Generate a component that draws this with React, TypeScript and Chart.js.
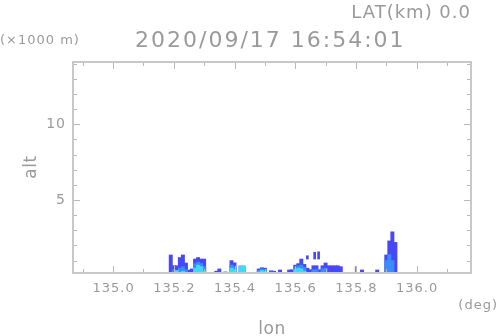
import React, { useEffect, useRef } from "react";
import { Chart, registerables } from "chart.js";

Chart.register(...registerables);

// Columns of the cross-section (longitude, deg) and layer tops (km)
const lon = [
  135.19, 135.2, 135.21, 135.22, 135.23, 135.24, 135.25, 135.26, 135.27, 135.28, 135.29, 135.3,
  135.34, 135.35, 135.37, 135.39, 135.4, 135.42, 135.43, 135.48, 135.49, 135.5, 135.52, 135.53,
  135.55, 135.58, 135.59, 135.6, 135.61, 135.62, 135.63, 135.64, 135.65, 135.66, 135.67, 135.68,
  135.69, 135.7, 135.71, 135.72, 135.73, 135.74, 135.75, 135.82, 135.87, 135.9, 135.91, 135.92,
  135.93,
];
const blueTop = [
  1.37, 0.66, 0.66, 1.2, 1.37, 0.84, 0.38, 0.45, 1.1, 1.2, 1.1, 1.1,
  0.3, 0.45, 0.25, 1.0, 0.85, 0.64, 0.64, 0.45, 0.53, 0.5, 0.33, 0.3,
  0.38, 0.38, 0.4, 0.7, 0.8, 1.1, 0.75, 0.5, 0.4, 0.66, 0.66, 0.4,
  0.66, 0.84, 0.66, 0.66, 0.66, 0.66, 0.6, 0.38, 0.38, 1.37, 2.3, 2.9,
  2.2,
];
const midTop = [
  null, 0.4, null, 0.5, 0.6, 0.4, null, null, 0.8, 0.9, 0.8, 0.6,
  null, null, null, 0.7, 0.6, null, null, 0.35, 0.45, 0.4, 0.25, 0.2,
  null, null, null, 0.55, 0.65, 0.7, 0.55, null, null, 0.4, 0.4, null,
  0.45, 0.5, null, null, null, null, null, null, null, 1.0, 1.4, 1.0,
  null,
];
const cyanTop = [
  null, null, 0.35, null, 0.3, null, null, null, 0.5, 0.7, 0.6, 0.3,
  null, null, null, 0.5, 0.4, 0.64, 0.64, 0.25, 0.35, 0.3, 0.2, null,
  null, null, null, 0.4, 0.5, 0.45, 0.3, null, null, null, null, null,
  null, null, null, null, null, null, null, null, null, null, null, null,
  null,
];
const greenTop = [
  null, null, null, null, null, null, null, null, null, null, null, null,
  null, null, null, 0.25, null, null, null, null, 0.22, null, null, null,
  null, null, null, null, null, null, null, null, null, null, null, null,
  null, null, null, null, null, null, null, null, null, null, null, null,
  null,
];
// Echo segments aloft (lon, bottom km, top km)
const aloftLon = [135.64, 135.664, 135.677];
const aloftBottom = [1.1, 1.1, 1.1];
const aloftTop = [1.32, 1.55, 1.58];
// Thin gray trace
const grayLon = [135.799];
const grayTop = [0.6];

// Axes
const xTicks = [134.9, 135.0, 135.1, 135.2, 135.3, 135.4, 135.5, 135.6, 135.7, 135.8, 135.9, 136.0, 136.1];
const xLabels = ["135.0", "135.2", "135.4", "135.6", "135.8", "136.0"];
const yTicks = [1, 2, 3, 4, 5, 6, 7, 8, 9, 10, 11, 12, 13, 14];
const yLabels = ["5", "10"];
const title = "2020/09/17 16:54:01";
const latText = "LAT(km) 0.0";
const unitY = "(×1000 m)";
const unitX = "(deg)";
const xName = "lon";
const yName = "alt";

const layer = (tops: (number | null)[]) =>
  lon.map((v, i) => ({ x: v, y: tops[i] == null ? null : [0, tops[i] as number] }));

const TEXT = "#9a9a9a";
const FONT = "'DejaVu Sans'";

const framePlugin = {
  id: "frame",
  afterDraw(chart: any) {
    const { ctx, chartArea: a, scales } = chart;
    const xs = scales.x;
    const ys = scales.y;
    ctx.save();
    ctx.strokeStyle = "#b8b8b8";
    ctx.lineWidth = 1;
    ctx.beginPath();
    xTicks.forEach((v) => {
      const px = Math.round(xs.getPixelForValue(v)) + 0.5;
      const major = xLabels.includes(v.toFixed(1));
      const len = major ? 7 : 4;
      ctx.moveTo(px, a.bottom);
      ctx.lineTo(px, a.bottom - len);
      ctx.moveTo(px, a.top);
      ctx.lineTo(px, a.top + len);
    });
    yTicks.forEach((v) => {
      const py = Math.round(ys.getPixelForValue(v)) + 0.5;
      const major = yLabels.includes(String(v));
      const len = major ? 7 : 4;
      ctx.moveTo(a.left, py);
      ctx.lineTo(a.left + len, py);
      ctx.moveTo(a.right, py);
      ctx.lineTo(a.right - len, py);
    });
    ctx.stroke();
    ctx.strokeStyle = "#c8c8c8";
    ctx.lineWidth = 2;
    ctx.strokeRect(a.left, a.top, a.right - a.left, a.bottom - a.top);

    ctx.fillStyle = TEXT;
    // x tick labels
    ctx.font = `13px ${FONT}`;
    ctx.textAlign = "center";
    ctx.textBaseline = "alphabetic";
    (ctx as any).letterSpacing = "1px";
    xLabels.forEach((t) => {
      ctx.fillText(t, xs.getPixelForValue(parseFloat(t)) + 0.5, a.bottom + 19);
    });
    // y tick labels
    ctx.font = `14px ${FONT}`;
    ctx.textAlign = "right";
    ctx.textBaseline = "middle";
    yLabels.forEach((t) => {
      ctx.fillText(t, a.left - 7, ys.getPixelForValue(parseFloat(t)));
    });
    // unit labels
    ctx.textBaseline = "alphabetic";
    ctx.font = `13px ${FONT}`;
    ctx.textAlign = "right";
    ctx.fillText(unitX, 498, a.bottom + 36);
    ctx.textAlign = "left";
    ctx.fillText(unitY, 0, 44);
    // axis names
    (ctx as any).letterSpacing = "0.5px";
    ctx.font = `17px ${FONT}`;
    ctx.textAlign = "center";
    ctx.fillText(xName, 272, 334);
    ctx.save();
    ctx.translate(36, 167);
    ctx.rotate(-Math.PI / 2);
    ctx.fillText(yName, 0, 0);
    ctx.restore();
    // title
    ctx.font = `22px ${FONT}`;
    ctx.textAlign = "left";
    (ctx as any).letterSpacing = "2px";
    ctx.fillText(title, 135, 47);
    ctx.font = `18px ${FONT}`;
    ctx.textAlign = "right";
    (ctx as any).letterSpacing = "1px";
    ctx.fillText(latText, 471, 18);
    ctx.restore();
  },
};

export default function App() {
  const ref = useRef<HTMLCanvasElement | null>(null);
  useEffect(() => {
    document.body.style.margin = "0";
    const canvas = ref.current!;
    const chart = new Chart(canvas, {
      type: "bar",
      data: {
        datasets: [
          {
            label: "aloft",
            data: aloftLon.map((v, i) => ({ x: v, y: [aloftBottom[i], aloftTop[i]] })) as any,
            backgroundColor: "#4848f8",
            barThickness: 2,
          },
          {
            label: "gray",
            data: grayLon.map((v, i) => ({ x: v, y: [0, grayTop[i]] })) as any,
            backgroundColor: "#8a8a8a",
            barThickness: 1,
          },
          { label: "green", data: layer(greenTop) as any, backgroundColor: "#5cf08c", barThickness: 3.3 },
          { label: "cyan", data: layer(cyanTop) as any, backgroundColor: "#44d8f8", barThickness: 3.3 },
          { label: "mid", data: layer(midTop) as any, backgroundColor: "#3c8cf8", barThickness: 3.3 },
          { label: "blue", data: layer(blueTop) as any, backgroundColor: "#4848f8", barThickness: 3.3 },
        ],
      },
      options: {
        animation: false,
        responsive: false,
        devicePixelRatio: 1,
        layout: { padding: { left: 73, right: 27, top: 62, bottom: 63 } },
        datasets: { bar: { grouped: false, borderWidth: 0, borderSkipped: false } } as any,
        plugins: { legend: { display: false }, tooltip: { enabled: false }, title: { display: false } },
        scales: {
          x: { type: "linear", min: 134.868, max: 136.179, offset: false, display: false },
          y: { type: "linear", min: 0.18, max: 14.11, display: false },
        },
      },
      plugins: [framePlugin],
    });
    return () => chart.destroy();
  }, []);
  return <canvas ref={ref} width={498} height={336} style={{ display: "block" }} />;
}
